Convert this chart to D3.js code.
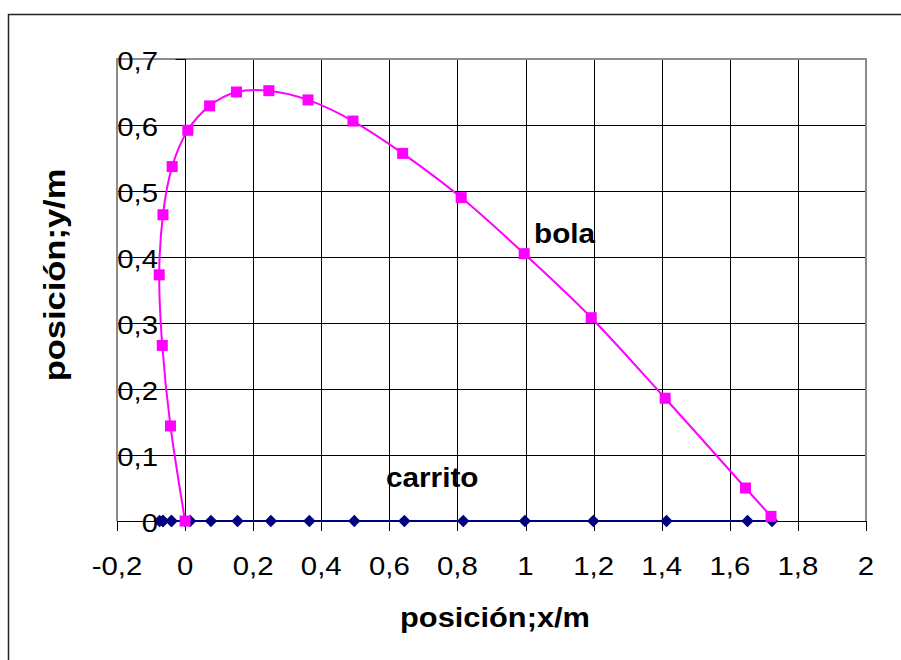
<!DOCTYPE html>
<html>
<head>
<meta charset="utf-8">
<script src="https://cdnjs.cloudflare.com/ajax/libs/d3/7.8.5/d3.min.js"></script>
<style>
  html, body { margin: 0; padding: 0; background: #fff; }
  svg { display: block; }
</style>
</head>
<body>
<div id="chart"></div>
<script>
// bola (ball) trajectory
var bolaX = [0, -0.043, -0.067, -0.076, -0.065, -0.038, 0.008, 0.072, 0.151, 0.246, 0.361, 0.493, 0.639, 0.811, 0.996, 1.193, 1.410, 1.646, 1.721];
var bolaY = [0, 0.144, 0.266, 0.373, 0.464, 0.537, 0.592, 0.629, 0.650, 0.652, 0.638, 0.606, 0.557, 0.490, 0.405, 0.308, 0.186, 0.050, 0.007];
// carrito (cart) positions
var carritoX = [0, -0.040, -0.065, -0.075, -0.065, -0.040, 0.015, 0.076, 0.154, 0.252, 0.365, 0.497, 0.644, 0.817, 0.998, 1.199, 1.414, 1.652, 1.724];
var carritoY = [0, 0, 0, 0, 0, 0, 0, 0, 0, 0, 0, 0, 0, 0, 0, 0, 0, 0, 0];

var xTicks = [-0.2, 0, 0.2, 0.4, 0.6, 0.8, 1, 1.2, 1.4, 1.6, 1.8, 2];
var yTicks = [0, 0.1, 0.2, 0.3, 0.4, 0.5, 0.6, 0.7];

var width = 901, height = 660;
var plotLeft = 117, plotRight = 866, plotTop = 59, plotBottom = 521;
var stretch = 1.13;

var svg = d3.select('#chart').append('svg')
  .attr('width', width)
  .attr('height', height)
  .attr('font-family', '"Liberation Sans", Arial, sans-serif');

// outer chart frame (only left and top edges visible)
svg.append('path')
  .attr('d', 'M8.5,' + height + 'V14.5H' + width)
  .attr('fill', 'none')
  .attr('stroke', '#222')
  .attr('stroke-width', 1.5);

var x = d3.scaleLinear().domain([-0.2, 2]).range([plotLeft, plotRight]);
var y = d3.scaleLinear().domain([0, 0.7]).range([plotBottom, plotTop]);
var fmt = function(v) { return String(+v.toFixed(1)).replace('.', ','); };

// gridlines
svg.append('g').selectAll('line').data(yTicks).enter().append('line')
  .attr('x1', plotLeft).attr('x2', plotRight)
  .attr('y1', function(d) { return Math.round(y(d)) + 0.5; })
  .attr('y2', function(d) { return Math.round(y(d)) + 0.5; })
  .attr('stroke', '#000').attr('stroke-width', 1);
svg.append('g').selectAll('line').data(xTicks).enter().append('line')
  .attr('y1', plotTop).attr('y2', plotBottom)
  .attr('x1', function(d) { return Math.round(x(d)) + 0.5; })
  .attr('x2', function(d) { return Math.round(x(d)) + 0.5; })
  .attr('stroke', '#000').attr('stroke-width', 1);

// plot area border
svg.append('path')
  .attr('d', 'M' + plotLeft + ',' + plotBottom + 'V' + plotTop + 'H' + plotRight + 'V' + plotBottom)
  .attr('fill', 'none')
  .attr('stroke', '#8c8c8c')
  .attr('stroke-width', 2);

// y axis at x = 0, ticks pointing left
var y0 = Math.round(x(0)) + 0.5;
svg.append('line').attr('x1', y0).attr('x2', y0).attr('y1', plotTop).attr('y2', plotBottom)
  .attr('stroke', '#000').attr('stroke-width', 1);
svg.append('g').selectAll('line').data(yTicks).enter().append('line')
  .attr('x1', y0 - 10).attr('x2', y0)
  .attr('y1', function(d) { return Math.round(y(d)) + 0.5; })
  .attr('y2', function(d) { return Math.round(y(d)) + 0.5; })
  .attr('stroke', '#000');

// x axis at y = 0, ticks pointing down
svg.append('line').attr('x1', plotLeft).attr('x2', plotRight).attr('y1', plotBottom + 0.5).attr('y2', plotBottom + 0.5)
  .attr('stroke', '#000').attr('stroke-width', 1);
svg.append('g').selectAll('line').data(xTicks).enter().append('line')
  .attr('y1', plotBottom).attr('y2', plotBottom + 10)
  .attr('x1', function(d) { return Math.round(x(d)) + 0.5; })
  .attr('x2', function(d) { return Math.round(x(d)) + 0.5; })
  .attr('stroke', '#000');

// lines
var line = d3.line()
  .x(function(d) { return x(d[0]); })
  .y(function(d) { return y(d[1]); })
  .curve(d3.curveCatmullRom.alpha(0));

var carrito = d3.zip(carritoX, carritoY);
var bola = d3.zip(bolaX, bolaY);

svg.append('path').datum(carrito).attr('d', line)
  .attr('fill', 'none').attr('stroke', '#000080').attr('stroke-width', 2);
svg.append('g').selectAll('path').data(carrito).enter().append('path')
  .attr('d', 'M0,-6.2L6.2,0L0,6.2L-6.2,0Z')
  .attr('transform', function(d) { return 'translate(' + x(d[0]) + ',' + y(d[1]) + ')'; })
  .attr('fill', '#000080');

svg.append('path').datum(bola).attr('d', line)
  .attr('fill', 'none').attr('stroke', '#ff00ff').attr('stroke-width', 2);
svg.append('g').selectAll('rect').data(bola).enter().append('rect')
  .attr('x', function(d) { return x(d[0]) - 5.5; })
  .attr('y', function(d) { return y(d[1]) - 5.5; })
  .attr('width', 11).attr('height', 11)
  .attr('fill', '#ff00ff');

// text helper: Excel glyphs run a bit wider than Liberation Sans
function label(tx, ty, txt, opts) {
  opts = opts || {};
  svg.append('text')
    .attr('transform', 'translate(' + tx + ',' + ty + ')' + (opts.rotate ? ' rotate(' + opts.rotate + ')' : '') + ' scale(' + (opts.sx || stretch) + ',1)')
    .attr('text-anchor', opts.anchor || 'middle')
    .attr('font-size', opts.size || 26)
    .attr('font-weight', opts.bold ? 'bold' : 'normal')
    .attr('fill', '#000')
    .text(txt);
}

yTicks.forEach(function(d) { label(158, y(d) + 11, fmt(d), { anchor: 'end' }); });
xTicks.forEach(function(d) { label(x(d), 575, fmt(d)); });

// axis titles
label(495, 627, 'posición;x/m', { bold: true, size: 28, sx: 1.1 });
label(65, 275, 'posición;y/m', { bold: true, size: 30, sx: 1.15, rotate: -90 });

// series labels
label(534, 243, 'bola', { bold: true, size: 27, sx: 1.1, anchor: 'start' });
label(386, 487, 'carrito', { bold: true, size: 27, sx: 1.1, anchor: 'start' });
</script>
</body>
</html>
